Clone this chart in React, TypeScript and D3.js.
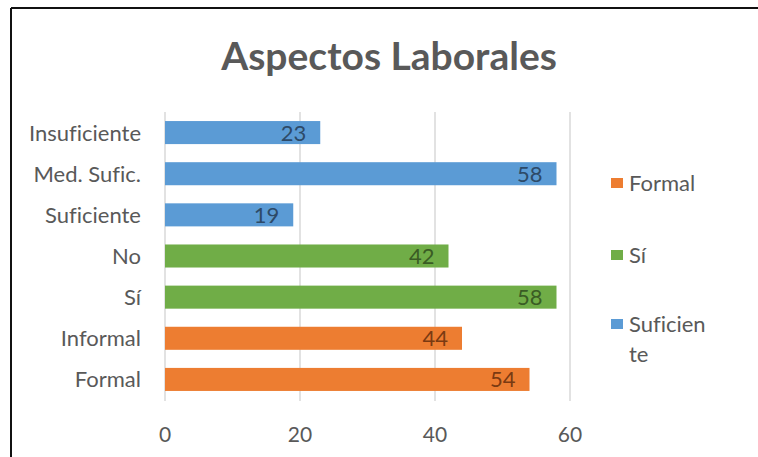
import React from "react";
import * as d3 from "d3";

const categories = ["Insuficiente", "Med. Sufic.", "Suficiente", "No", "Sí", "Informal", "Formal"];
const values = [23, 58, 19, 42, 58, 44, 54];
const groups = ["Suficiente", "Suficiente", "Suficiente", "Sí", "Sí", "Formal", "Formal"];
const legendItems = ["Formal", "Sí", "Suficiente"];
const xTicks = [0, 20, 40, 60];

const fill: Record<string, string> = { Formal: "#ED7D31", "Sí": "#70AD47", Suficiente: "#5B9BD5" };
const labelColor: Record<string, string> = { Formal: "#7a3a12", "Sí": "#3a5c24", Suficiente: "#2d4a68" };

const W = 758, H = 457;
const FONT = "Lato, 'Open Sans', sans-serif";

export default function App() {
  const x = d3.scaleLinear().domain([0, 60]).range([165, 570]);
  const y = d3.scaleBand().domain(categories).range([112, 400]).paddingInner(0.44).paddingOuter(0.22);
  const legendY = [183, 255, 324];
  return (
    <svg width={W} height={H} style={{ position: "absolute", left: 0, top: 0, background: "#fff", fontVariantLigatures: "none" }}>
      <rect x={0} y={0} width={W} height={H} fill="#fff" />
      <line x1={11} y1={8} x2={W} y2={8} stroke="#111" strokeWidth={2} />
      <line x1={11} y1={8} x2={11} y2={H} stroke="#111" strokeWidth={2} />
      <text x={389} y={70} textAnchor="middle" fontFamily={FONT} fontWeight="bold" fontSize={39} fill="#595959">
        Aspectos Laborales
      </text>
      {xTicks.map((t) => (
        <g key={t}>
          <line x1={x(t)} x2={x(t)} y1={112} y2={401} stroke="#d9d9d9" strokeWidth={1.5} />
          <text x={x(t)} y={442} textAnchor="middle" fontFamily={FONT} fontSize={21} fill="#595959">{t}</text>
        </g>
      ))}
      {categories.map((c, i) => {
        const by = y(c)!;
        const bh = y.bandwidth();
        return (
          <g key={c}>
            <rect x={x(0)} y={by} width={x(values[i]) - x(0)} height={bh} fill={fill[groups[i]]} />
            <text x={x(values[i]) - 14} y={by + bh / 2 + 8} textAnchor="end" fontFamily={FONT} fontSize={22} fill={labelColor[groups[i]]}>
              {values[i]}
            </text>
            <text x={141} y={by + bh / 2 + 8} textAnchor="end" fontFamily={FONT} fontSize={22} fill="#595959">{c}</text>
          </g>
        );
      })}
      {legendItems.map((l, i) => (
        <g key={l}>
          <rect x={611} y={legendY[i] - 5} width={12} height={10} fill={fill[l]} />
          {l === "Suficiente" ? (
            <text fontFamily={FONT} fontSize={22} fill="#595959">
              <tspan x={629} y={legendY[i] + 8}>Suficien</tspan>
              <tspan x={629} y={legendY[i] + 38}>te</tspan>
            </text>
          ) : (
            <text x={629} y={legendY[i] + 8} fontFamily={FONT} fontSize={22} fill="#595959">{l}</text>
          )}
        </g>
      ))}
    </svg>
  );
}
